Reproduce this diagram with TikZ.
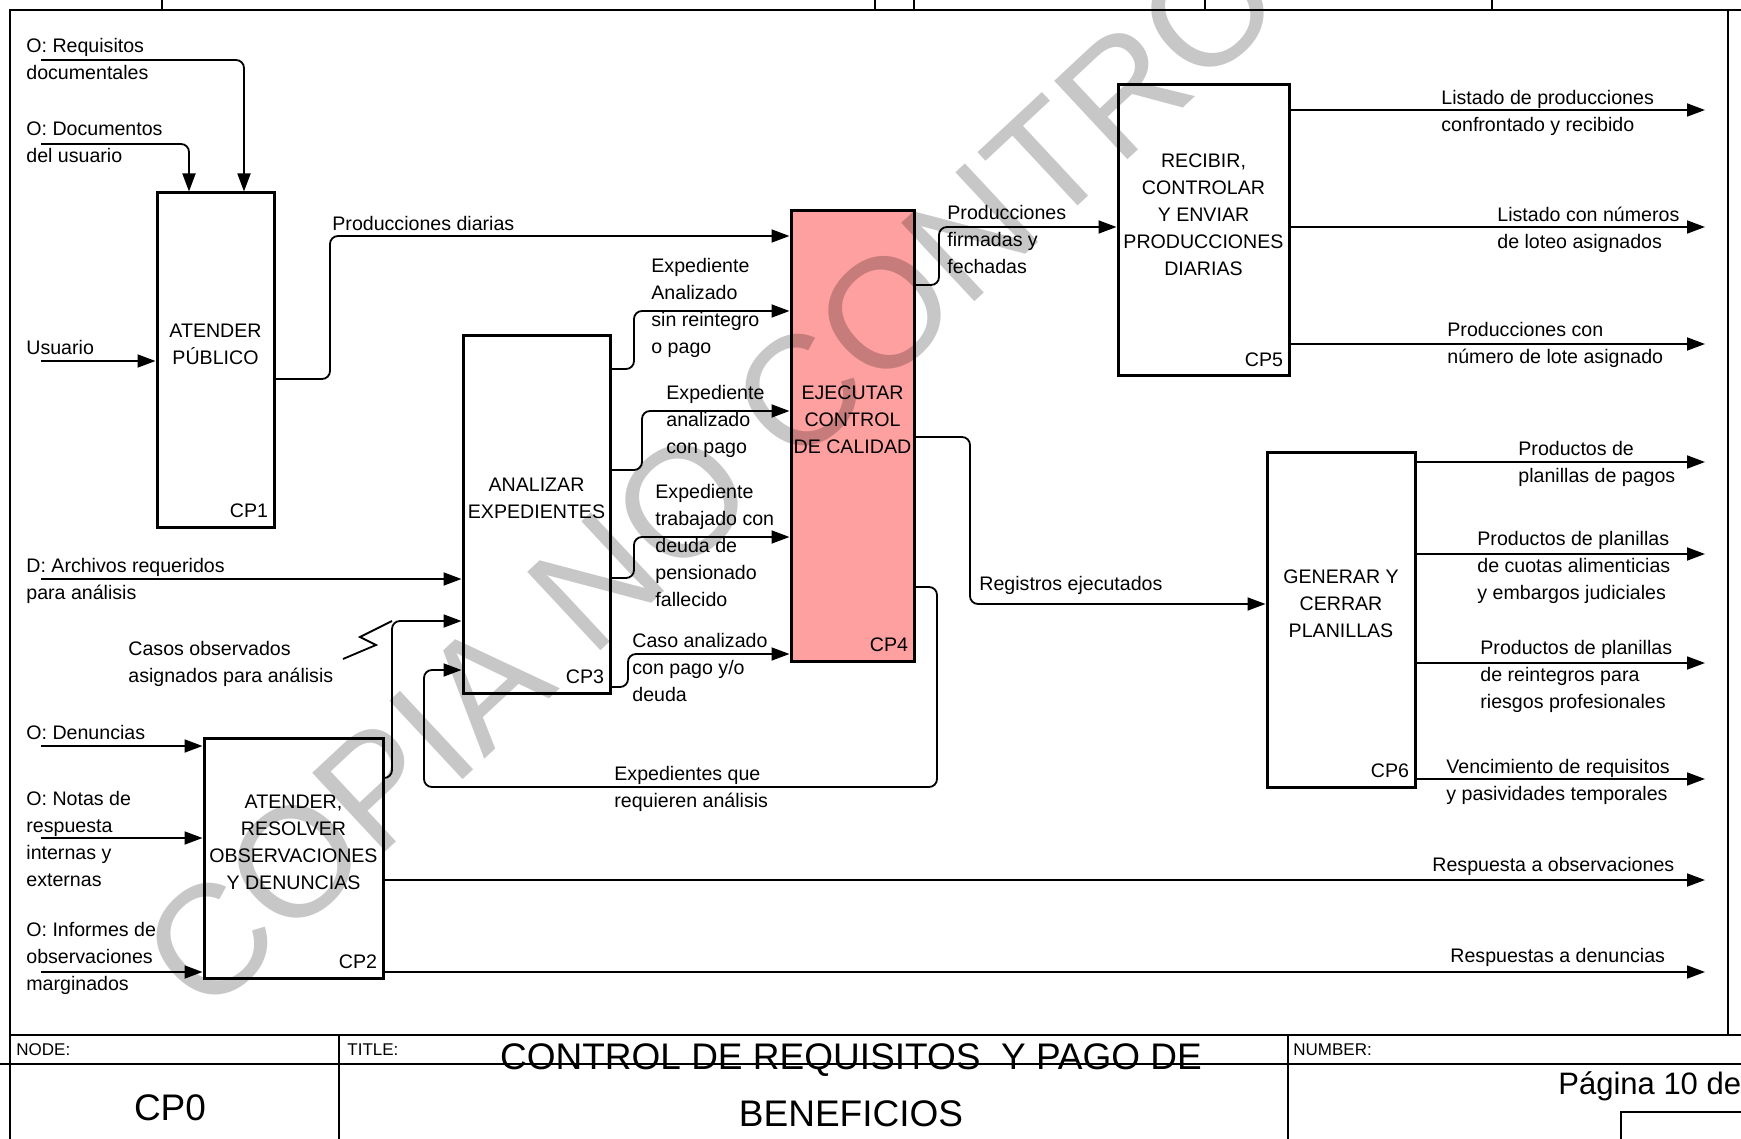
\documentclass[tikz,border=0pt]{standalone}
\usepackage{fontspec}
\setsansfont{Liberation Sans}
\usetikzlibrary{positioning,arrows.meta}
\definecolor{actpink}{RGB}{255,160,160}

\begin{document}
\begin{tikzpicture}[
  x=0.5pt, y=-0.5pt,
  font=\sffamily\fontsize{9.8pt}{13.5pt}\selectfont,
  act/.style={draw, line width=1.5pt, inner sep=0pt},
  acttext/.style={align=center, inner sep=0pt},
  cpnum/.style={inner sep=0pt},
  lbl/.style={align=left, inner sep=0pt, anchor=north west},
  flow/.style={line width=0.9pt, rounded corners=4pt, -{Triangle[length=9pt,width=6.5pt]}},
  frame/.style={line width=1pt}
]
\useasboundingbox (0,0) rectangle (1741,1139);

% Frame and title block
\draw[frame] (10,1139) -- (10,10) -- (1741,10);
\draw[frame] (1728,10) -- (1728,1035);
\foreach \tx in {162,875,914,1205,1492} \draw[frame] (\tx,0) -- (\tx,10);
\draw[frame] (10,1035) -- (1741,1035);
\draw[frame] (0,1064) -- (1741,1064);
\draw[frame] (339,1035) -- (339,1139);
\draw[frame] (1288,1035) -- (1288,1139);
\draw[frame] (1621,1139) -- (1621,1112) -- (1741,1112);
\node[anchor=west, inner sep=0pt, font=\sffamily\fontsize{8.5pt}{10pt}\selectfont] (nodelbl) at (16,1050) {NODE:};
\node[anchor=west, inner sep=0pt, font=\sffamily\fontsize{8.5pt}{10pt}\selectfont] (titlelbl) at (347,1050) {TITLE:};
\node[anchor=west, inner sep=0pt, font=\sffamily\fontsize{8.5pt}{10pt}\selectfont] (numberlbl) at (1293,1050) {NUMBER:};
\node[acttext, font=\sffamily\fontsize{18.5pt}{28.5pt}\selectfont] (title) at (851,1085) {CONTROL DE REQUISITOS\ \ Y PAGO DE\\BENEFICIOS};
\node[inner sep=0pt, font=\sffamily\fontsize{18.5pt}{22pt}\selectfont] (cp0) at (170,1108) {CP0};
\node[anchor=west, inner sep=0pt, font=\sffamily\fontsize{15.5pt}{18pt}\selectfont] (pagina) at (1558,1086) {Página 10 de};

% Activity boxes
\node[act, minimum width=58.5pt, minimum height=167pt] (cp1) at (215.5,360) {};
\node[act, minimum width=89.5pt, minimum height=120pt] (cp2) at (293.5,858) {};
\node[act, minimum width=73.5pt, minimum height=178.5pt] (cp3) at (536.5,514.5) {};
\node[act, fill=actpink, minimum width=61.5pt, minimum height=225pt] (cp4) at (852.5,436) {};
\node[act, minimum width=85.5pt, minimum height=145.5pt] (cp5) at (1203.5,230.5) {};
\node[act, minimum width=74pt, minimum height=167.5pt] (cp6) at (1341,619.5) {};

\node[acttext] (cp1txt) at ([yshift=8pt]cp1.center) {ATENDER\\PÚBLICO};
\node[acttext] (cp2txt) at ([yshift=8pt]cp2.center) {ATENDER,\\RESOLVER\\OBSERVACIONES\\Y DENUNCIAS};
\node[acttext] (cp3txt) at ([yshift=8pt]cp3.center) {ANALIZAR\\EXPEDIENTES};
\node[acttext] (cp4txt) at ([yshift=8pt]cp4.center) {EJECUTAR\\CONTROL\\DE CALIDAD};
\node[acttext] (cp5txt) at ([yshift=8pt]cp5.center) {RECIBIR,\\CONTROLAR\\Y ENVIAR\\PRODUCCIONES\\DIARIAS};
\node[acttext] (cp6txt) at ([yshift=8pt]cp6.center) {GENERAR Y\\CERRAR\\PLANILLAS};

\node[cpnum, above left=5pt and 3.5pt of cp1.south east] (cp1num) {CP1};
\node[cpnum, above left=5pt and 3.5pt of cp2.south east] (cp2num) {CP2};
\node[cpnum, above left=5pt and 3.5pt of cp3.south east] (cp3num) {CP3};
\node[cpnum, above left=5pt and 3.5pt of cp4.south east] (cp4num) {CP4};
\node[cpnum, above left=5pt and 3.5pt of cp5.south east] (cp5num) {CP5};
\node[cpnum, above left=5pt and 3.5pt of cp6.south east] (cp6num) {CP6};

% Free ends
\coordinate (reqdoc) at (41,60);
\coordinate (docusr) at (41,144);
\coordinate (usuario) at (41,361);
\coordinate (archivos) at (41,579);
\coordinate (denuncias) at (41,746);
\coordinate (notas) at (41,838);
\coordinate (informes) at (41,972);
\coordinate (outlistado) at (1705,110);
\coordinate (outloteo) at (1705,227);
\coordinate (outlote) at (1705,344);
\coordinate (outpagos) at (1705,462);
\coordinate (outcuotas) at (1705,554);
\coordinate (outreint) at (1705,663);
\coordinate (outvenc) at (1705,779);
\coordinate (outresp) at (1705,880);
\coordinate (outdenun) at (1705,972);
\coordinate (squig) at (343,659);

% Inputs and controls
\draw[flow] (reqdoc) -| (cp1.north -| 244,0);
\draw[flow] (docusr) -| (cp1.north -| 189,0);
\draw[flow] (usuario) -- (cp1.west |- 0,361);
\draw[flow] (archivos) -- (cp3.west |- 0,579);
\draw[flow] (denuncias) -- (cp2.west |- 0,746);
\draw[flow] (notas) -- (cp2.west |- 0,838);
\draw[flow] (informes) -- (cp2.west |- 0,972);

% Connections between activities
\draw[flow] (cp1.east |- 0,379) -| (330,236) -- (cp4.west |- 0,236);
\draw[flow] (cp3.east |- 0,369) -| (634,311) -- (cp4.west |- 0,311);
\draw[flow] (cp3.east |- 0,470) -| (642,411) -- (cp4.west |- 0,411);
\draw[flow] (cp3.east |- 0,578) -| (634,537) -- (cp4.west |- 0,537);
\draw[flow] (cp3.east |- 0,687) -| (628,654) -- (cp4.west |- 0,654);
\draw[flow] (cp4.east |- 0,285) -| (939,227) -- (cp5.west |- 0,227);
\draw[flow] (cp4.east |- 0,437) -| (970,604) -- (cp6.west |- 0,604);
\draw[flow] (cp4.east |- 0,587) -| (937,787) -| (424,670) -- (cp3.west |- 0,670);
\draw[flow] (cp2.east |- 0,778) -| (392,621) -- (cp3.west |- 0,621);
\draw[line width=0.9pt] (squig) -- (376,645) -- (360,637) -- (392,621);

% Outputs
\draw[flow] (cp5.east |- outlistado) -- (outlistado);
\draw[flow] (cp5.east |- outloteo) -- (outloteo);
\draw[flow] (cp5.east |- outlote) -- (outlote);
\draw[flow] (cp6.east |- outpagos) -- (outpagos);
\draw[flow] (cp6.east |- outcuotas) -- (outcuotas);
\draw[flow] (cp6.east |- outreint) -- (outreint);
\draw[flow] (cp6.east |- outvenc) -- (outvenc);
\draw[flow] (cp2.east |- outresp) -- (outresp);
\draw[flow] (cp2.east |- outdenun) -- (outdenun);

% Arrow labels
\node[lbl] (lreqdoc) at (26,38) {O: Requisitos\\documentales};
\node[lbl] (ldocusr) at (26,121) {O: Documentos\\del usuario};
\node[lbl] (lusuario) at (26,340) {Usuario};
\node[lbl] (lprod) at (332,216) {Producciones diarias};
\node[lbl] (lsinreint) at (651,258) {Expediente\\Analizado\\sin reintegro\\o pago};
\node[lbl] (lconpago) at (666,385) {Expediente\\analizado\\con pago};
\node[lbl] (ldeuda) at (655,484) {Expediente\\trabajado con\\deuda de\\pensionado\\fallecido};
\node[lbl] (lcaso) at (632,633) {Caso analizado\\con pago y/o\\deuda};
\node[lbl] (lfirmadas) at (947,205) {Producciones\\firmadas y\\fechadas};
\node[lbl] (lregistros) at (979,576) {Registros ejecutados};
\node[lbl] (lrequieren) at (614,766) {Expedientes que\\requieren análisis};
\node[lbl] (larchivos) at (26,558) {D: Archivos requeridos\\para análisis};
\node[lbl] (lcasos) at (128,641) {Casos observados\\asignados para análisis};
\node[lbl] (ldenuncias) at (26,725) {O: Denuncias};
\node[lbl] (lnotas) at (26,791) {O: Notas de\\respuesta\\internas y\\externas};
\node[lbl] (linformes) at (26,922) {O: Informes de\\observaciones\\marginados};
\node[lbl] (lresp) at (1432,857) {Respuesta a observaciones};
\node[lbl] (ldenun) at (1450,948) {Respuestas a denuncias};
\node[lbl] (llistado) at (1441,90) {Listado de producciones\\confrontado y recibido};
\node[lbl] (lloteo) at (1497,207) {Listado con números\\de loteo asignados};
\node[lbl] (llote) at (1447,322) {Producciones con\\número de lote asignado};
\node[lbl] (lpagos) at (1518,441) {Productos de\\planillas de pagos};
\node[lbl] (lcuotas) at (1477,531) {Productos de planillas\\de cuotas alimenticias\\y embargos judiciales};
\node[lbl] (lreint) at (1480,640) {Productos de planillas\\de reintegros para\\riesgos profesionales};
\node[lbl] (lvenc) at (1446,759) {Vencimiento de requisitos\\y pasividades temporales};

% Watermark
\node[rotate=43, anchor=base west, inner sep=0pt, text=black, text opacity=0.22,
  font=\sffamily\fontsize{78pt}{78pt}\selectfont] (marca) at (205,1020) {COPIA NO CONTROLADA};

\end{tikzpicture}
\end{document}
